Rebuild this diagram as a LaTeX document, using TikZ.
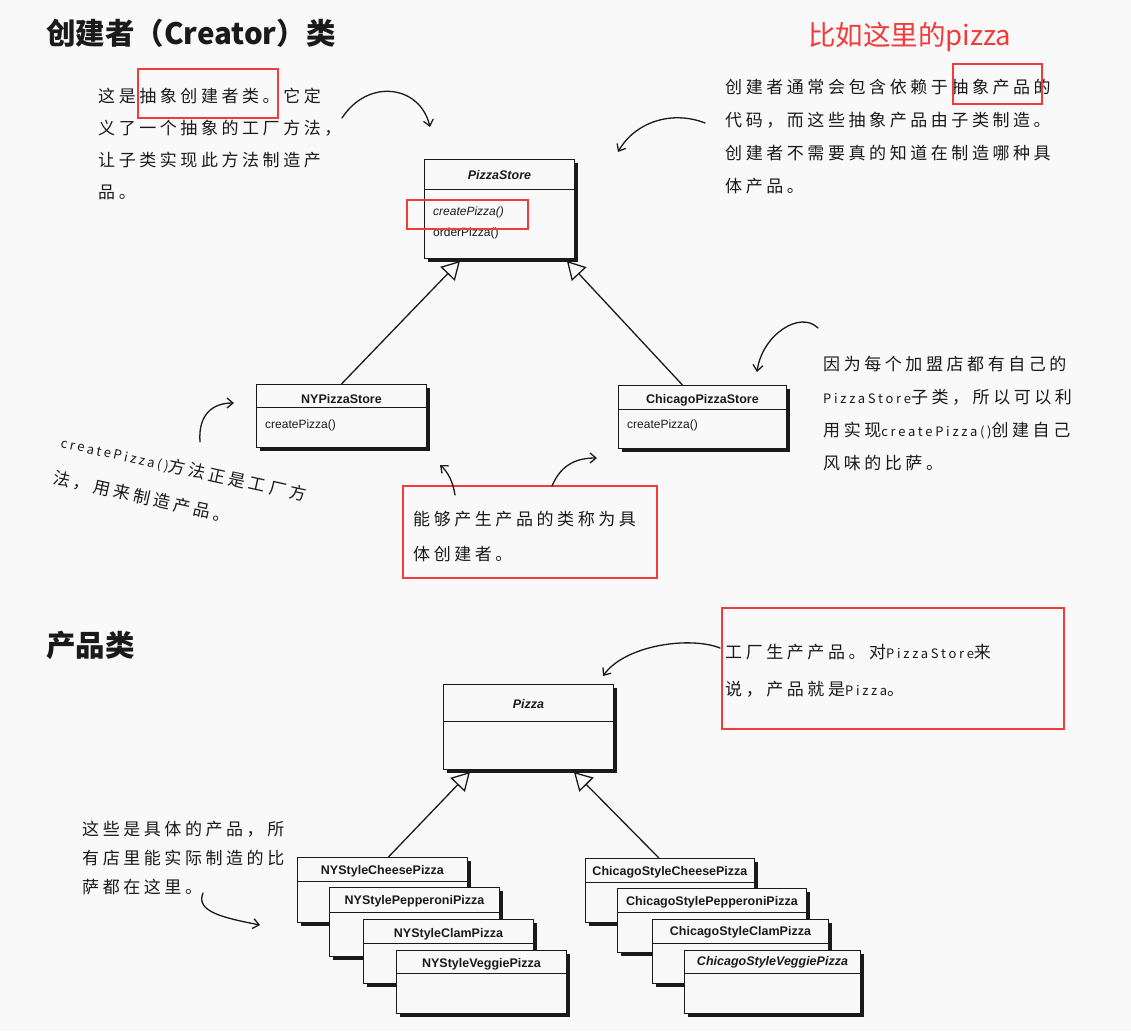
\documentclass[tikz,border=0pt]{standalone}
\usepackage{fontspec}
\setmainfont{Liberation Sans}
\newfontfamily\cjk{Noto Sans CJK SC}
\newfontfamily\hand[LetterSpace=21]{Noto Sans CJK SC}
\usetikzlibrary{arrows.meta,positioning,shadows}
\definecolor{paper}{HTML}{F9F9F9}
\definecolor{ink}{HTML}{1A1A1A}
\definecolor{mark}{HTML}{F23B3B}
\newcommand\latn[1]{{\fontsize{13}{13}\selectfont #1}}

\begin{document}
\begin{tikzpicture}[
    x=1pt, y=-1pt,
    cls/.style={
        draw=ink,
        line width=0.9pt,
        fill=paper,
        anchor=north west,
        inner sep=0pt,
        drop shadow={shadow xshift=4pt, shadow yshift=-4pt,
            opacity=1, fill=ink},
        path picture={
            \draw[ink, line width=0.9pt]
                ([yshift=-#1]path picture bounding box.north west) --
                ([yshift=-#1]path picture bounding box.north east);
        }
    },
    cls/.default=24pt,
    ttl/.style={
        font=\bfseries\fontsize{12.5}{15}\selectfont,
        inner sep=0pt,
        text=ink
    },
    mth/.style={
        font=\fontsize{12}{15}\selectfont,
        inner sep=0pt,
        anchor=west,
        text=ink
    },
    hd/.style={
        font=\cjk\bfseries\fontsize{29.5}{34}\selectfont,
        anchor=west,
        inner sep=0pt,
        text=ink
    },
    note/.style={
        font=\hand\fontsize{17}{32}\selectfont,
        align=left,
        anchor=north west,
        inner sep=0pt,
        text=ink
    },
    redbox/.style={
        draw=mark,
        line width=2.2pt,
        anchor=north west,
        inner sep=0pt
    },
    gen/.style={
        draw=ink,
        line width=1.3pt,
        -{Triangle[open, length=18pt, width=20pt]}
    },
    cue/.style={
        draw=ink,
        line width=1.3pt,
        line cap=round,
        -{Straight Barb[length=6pt, width=10pt]}
    }
]

\path[use as bounding box, fill=paper] (0,0) rectangle (1131,1031);

% creator part
\node[hd] (creatorHd) at (46,33) {创建者（Creator）类};
\node[anchor=west, inner sep=0pt, text=mark,
    font=\cjk\fontsize{27.5}{32}\selectfont] (hint) at (808,37)
{比如这里的pizza};

\node[note] (noteAbs) at (98,88)
{这是抽象创建者类。它定\\
义了一个抽象的工厂方法，\\
让子类实现此方法制造产\\
品。};

\node[note, font=\hand\fontsize{17}{33}\selectfont] (noteDep) at (725,79)
{创建者通常会包含依赖于抽象产品的\\
代码，而这些抽象产品由子类制造。\\
创建者不需要真的知道在制造哪种具\\
体产品。};

\node[cls=30pt, minimum width=150pt, minimum height=99pt] (store) at (424,159) {};
\node[ttl] (storeT) at ([yshift=-16pt]store.north) {\itshape PizzaStore};
\node[mth] (storeM1) at ([xshift=9pt, yshift=-53pt]store.north west) {\itshape createPizza()};
\node[mth] (storeM2) at ([xshift=9pt, yshift=-74pt]store.north west) {orderPizza()};

\node[cls=23pt, minimum width=170pt, minimum height=63pt] (nyStore) at (256,384) {};
\node[ttl] (nyStoreT) at ([yshift=-15pt]nyStore.north) {NYPizzaStore};
\node[mth] (nyStoreM) at ([xshift=9pt, yshift=-41pt]nyStore.north west) {createPizza()};

\node[cls, minimum width=168pt, minimum height=63pt] (chiStore) at (618,385) {};
\node[ttl] (chiStoreT) at ([yshift=-15pt]chiStore.north) {ChicagoPizzaStore};
\node[mth] (chiStoreM) at ([xshift=9pt, yshift=-40pt]chiStore.north west) {createPizza()};

\draw[gen] (nyStore.north) -- ([xshift=36pt, yshift=-2pt]store.south west);
\draw[gen] ([xshift=-20pt]chiStore.north) -- ([xshift=-8pt, yshift=-2pt]store.south east);

\node[note, rotate=-12.5, font=\hand\fontsize{17}{37}\selectfont] (noteMethod) at (63,433)
{\latn{createPizza()}方法正是工厂方\\
法，用来制造产品。};

\node[note, font=\hand\fontsize{17}{35}\selectfont] (noteConcrete) at (413,511)
{能够产生产品的类称为具\\
体创建者。};

\node[note, font=\hand\fontsize{17}{33}\selectfont] (noteOwn) at (823,356)
{因为每个加盟店都有自己的\\
\latn{PizzaStore}子类，所以可以利\\
用实现\latn{createPizza()}创建自己\\
风味的比萨。};

% product part
\node[hd] (productHd) at (46,645) {产品类};

\node[note, font=\hand\fontsize{17}{37}\selectfont] (noteProduct) at (725,644)
{工厂生产产品。对\latn{PizzaStore}来\\
说，产品就是\latn{Pizza}。};

\node[note, font=\hand\fontsize{17}{29}\selectfont] (noteHere) at (82,821)
{这些是具体的产品，所\\
有店里能实际制造的比\\
萨都在这里。};

\node[cls=37pt, minimum width=170pt, minimum height=85pt] (pizza) at (443,684) {};
\node[ttl] (pizzaT) at ([yshift=-20pt]pizza.north) {\itshape Pizza};

\node[cls, minimum width=170pt, minimum height=65pt] (nyCheese) at (297,857) {};
\node[ttl] (nyCheeseT) at ([yshift=-14pt]nyCheese.north) {NYStyleCheesePizza};
\node[cls=25pt, minimum width=170pt, minimum height=69pt] (nyPepperoni) at (329,887) {};
\node[ttl] (nyPepperoniT) at ([yshift=-14pt]nyPepperoni.north) {NYStylePepperoniPizza};
\node[cls, minimum width=170pt, minimum height=64pt] (nyClam) at (363,919) {};
\node[ttl] (nyClamT) at ([yshift=-15pt]nyClam.north) {NYStyleClamPizza};
\node[cls=23pt, minimum width=170pt, minimum height=63pt] (nyVeggie) at (396,950) {};
\node[ttl] (nyVeggieT) at ([yshift=-14pt]nyVeggie.north) {NYStyleVeggiePizza};

\node[cls, minimum width=169pt, minimum height=64pt] (chiCheese) at (585,858) {};
\node[ttl] (chiCheeseT) at ([yshift=-14pt]chiCheese.north) {ChicagoStyleCheesePizza};
\node[cls, minimum width=189pt, minimum height=64pt] (chiPepperoni) at (617,888) {};
\node[ttl] (chiPepperoniT) at ([yshift=-14pt]chiPepperoni.north) {ChicagoStylePepperoniPizza};
\node[cls, minimum width=176pt, minimum height=64pt] (chiClam) at (652,919) {};
\node[ttl] (chiClamT) at ([yshift=-13pt]chiClam.north) {ChicagoStyleClamPizza};
\node[cls=23pt, minimum width=176pt, minimum height=63pt] (chiVeggie) at (684,950) {};
\node[ttl] (chiVeggieT) at ([yshift=-12pt]chiVeggie.north) {\itshape ChicagoStyleVeggiePizza};

\draw[gen] ([xshift=6pt]nyCheese.north) -- ([xshift=27pt, yshift=-2pt]pizza.south west);
\draw[gen] ([xshift=-11pt]chiCheese.north) -- ([xshift=-40pt, yshift=-2pt]pizza.south east);

% red marks
\node[redbox, minimum width=140pt, minimum height=49pt] (markAbs) at (137,68) {};
\node[redbox, minimum width=121pt, minimum height=29pt] (markCreate) at (406,199) {};
\node[redbox, minimum width=89pt, minimum height=40pt] (markProd) at (952,63) {};
\node[redbox, minimum width=254pt, minimum height=92pt] (markConcrete) at (402,485) {};
\node[redbox, minimum width=342pt, minimum height=121pt] (markProduct) at (721,607) {};

% hand arrows
\coordinate (a1s) at (342,118);
\coordinate (a1e) at (430,127);
\coordinate (a2s) at (705,123);
\coordinate (a2e) at (618,152);
\coordinate (a3s) at (200,442);
\coordinate (a3e) at (234,403);
\coordinate (a4s) at (455,495);
\coordinate (a4e) at (440,465);
\coordinate (a5s) at (552,486);
\coordinate (a5e) at (597,458);
\coordinate (a6s) at (818,328);
\coordinate (a6e) at (757,372);
\coordinate (a7s) at (720,648);
\coordinate (a7e) at (603,676);
\coordinate (a8s) at (203,893);
\coordinate (a8e) at (260,925);

\draw[cue] (a1s) .. controls (368,78) and (420,85) .. (a1e);
\draw[cue] (a2s) .. controls (672,110) and (635,122) .. (a2e);
\draw[cue] (a3s) .. controls (198,415) and (212,403) .. (a3e);
\draw[cue] (a4s) .. controls (453,482) and (448,472) .. (a4e);
\draw[cue] (a5s) .. controls (562,462) and (580,458) .. (a5e);
\draw[cue] (a6s) .. controls (800,310) and (762,335) .. (a6e);
\draw[cue] (a7s) .. controls (690,636) and (625,645) .. (a7e);
\draw[cue] (a8s) .. controls (195,912) and (225,918) .. (a8e);

\end{tikzpicture}
\end{document}
